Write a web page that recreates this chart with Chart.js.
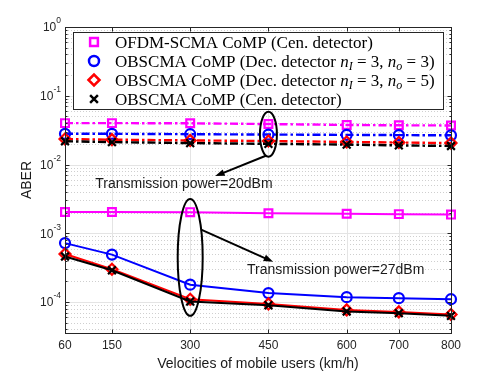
<!DOCTYPE html>
<html>
<head>
<meta charset="utf-8">
<script src="https://cdn.jsdelivr.net/npm/chart.js@4.4.0/dist/chart.umd.min.js"></script>
<style>
  html, body { margin: 0; padding: 0; background: #fff; }
  #wrap { width: 498px; height: 374px; }
</style>
</head>
<body>
<div id="wrap"><canvas id="aberChart"></canvas></div>
<script>
const velocities = [60, 150, 300, 450, 600, 700, 800];

// Transmission power = 20 dBm (dash-dot curves)
const ofdmCen20 = [0.0400, 0.0400, 0.0398, 0.0388, 0.0376, 0.0372, 0.0370];
const obsDec33_20 = [0.0280, 0.0280, 0.0276, 0.0273, 0.0270, 0.0268, 0.0266];
const obsDec35_20 = [0.0235, 0.0230, 0.0224, 0.0220, 0.0213, 0.0209, 0.0205];
const obsCen20 = [0.0218, 0.0212, 0.0205, 0.0200, 0.0195, 0.0190, 0.0186];

// Transmission power = 27 dBm (solid curves)
const ofdmCen27 = [0.00204, 0.00204, 0.00203, 0.00196, 0.00193, 0.00190, 0.00187];
const obsDec33_27 = [7.2e-4, 4.9e-4, 1.79e-4, 1.35e-4, 1.18e-4, 1.14e-4, 1.10e-4];
const obsDec35_27 = [5.0e-4, 3.0e-4, 1.10e-4, 9.4e-5, 7.7e-5, 7.2e-5, 6.6e-5];
const obsCen27 = [4.6e-4, 2.9e-4, 1.02e-4, 9.0e-5, 7.3e-5, 6.9e-5, 6.3e-5];

const yDecades = [0, -1, -2, -3, -4];
const yMin = 3.55e-5, yMax = 1;

const MAGENTA = '#ff00ff', BLUE = '#0000ff', RED = '#ff0000', BLACK = '#000000';
const AXIS = '#262626';

// legend text, with italic / subscript parts for the math
const legendEntries = [
  { style: 'rect', color: MAGENTA, parts: [['OFDM-SCMA CoMP (Cen. detector)', 'n']] },
  { style: 'circle', color: BLUE, parts: [['OBSCMA CoMP (Dec. detector ', 'n'], ['n', 'i'], ['I', 's'], [' = 3, ', 'n'], ['n', 'i'], ['o', 's'], [' = 3)', 'n']] },
  { style: 'rectRot', color: RED, parts: [['OBSCMA CoMP (Dec. detector ', 'n'], ['n', 'i'], ['I', 's'], [' = 3, ', 'n'], ['n', 'i'], ['o', 's'], [' = 5)', 'n']] },
  { style: 'crossRot', color: BLACK, parts: [['OBSCMA CoMP (Cen. detector)', 'n']] }
];

function series(label, values, color, pointStyle, dashed, order) {
  return {
    label, order,
    data: velocities.map((v, i) => ({ x: v, y: values[i] })),
    borderColor: color,
    backgroundColor: color,
    borderWidth: dashed ? 2.4 : 2,
    borderDash: dashed ? [8, 3, 2.5, 3] : [],
    pointStyle,
    pointRadius: pointStyle === 'circle' ? 5 : 5.5,
    pointBorderColor: color,
    pointBackgroundColor: 'rgba(0,0,0,0)',
    pointBorderWidth: 2.2,
    fill: false,
    tension: 0,
    clip: false
  };
}

function drawMarker(ctx, style, x, y, r, color) {
  ctx.save();
  ctx.strokeStyle = color;
  ctx.lineWidth = 2.5;
  ctx.beginPath();
  if (style === 'rect') {
    const s = r * Math.SQRT1_2;
    ctx.rect(x - s, y - s, 2 * s, 2 * s);
  } else if (style === 'circle') {
    ctx.arc(x, y, r, 0, Math.PI * 2);
  } else if (style === 'rectRot') {
    ctx.moveTo(x - r, y); ctx.lineTo(x, y - r); ctx.lineTo(x + r, y); ctx.lineTo(x, y + r); ctx.closePath();
  } else {
    const s = r * Math.SQRT1_2;
    ctx.moveTo(x - s, y - s); ctx.lineTo(x + s, y + s);
    ctx.moveTo(x + s, y - s); ctx.lineTo(x - s, y + s);
  }
  ctx.stroke();
  ctx.restore();
}

function hline(ctx, x1, x2, y) { ctx.beginPath(); ctx.moveTo(x1, y); ctx.lineTo(x2, y); ctx.stroke(); }
function vline(ctx, x, y1, y2) { ctx.beginPath(); ctx.moveTo(x, y1); ctx.lineTo(x, y2); ctx.stroke(); }

const figurePlugin = {
  id: 'figurePlugin',
  beforeDraw(chart) {
    const ctx = chart.ctx;
    ctx.save();
    ctx.fillStyle = '#fff';
    ctx.fillRect(0, 0, chart.width, chart.height);
    ctx.restore();
  },
  beforeDatasetsDraw(chart) {
    const { ctx, chartArea: a, scales: { x, y } } = chart;
    ctx.save();
    ctx.beginPath();
    ctx.rect(a.left, a.top, a.right - a.left, a.bottom - a.top);
    ctx.clip();
    ctx.lineWidth = 1;
    // minor log grid, dotted
    ctx.strokeStyle = '#cfcfcf';
    ctx.setLineDash([1, 2]);
    for (let e = -5; e < 0; e++) {
      for (let k = 2; k <= 9; k++) {
        const py = Math.round(y.getPixelForValue(k * Math.pow(10, e))) + 0.5;
        if (py > a.top && py < a.bottom) hline(ctx, a.left, a.right, py);
      }
    }
    ctx.setLineDash([]);
    ctx.strokeStyle = '#e4e4e4';
    velocities.forEach(v => vline(ctx, Math.round(x.getPixelForValue(v)) + 0.5, a.top, a.bottom));
    yDecades.forEach(e => hline(ctx, a.left, a.right, Math.round(y.getPixelForValue(Math.pow(10, e))) + 0.5));
    ctx.restore();
  },
  afterDatasetsDraw(chart) {
    const { ctx, chartArea: a, scales: { x, y } } = chart;
    ctx.save();

    // box with inward ticks on all sides
    ctx.strokeStyle = AXIS;
    ctx.lineWidth = 1;
    const L = Math.round(a.left) + 0.5, R = Math.round(a.right) + 0.5;
    const T = Math.round(a.top) + 0.5, B = Math.round(a.bottom) + 0.5;
    ctx.strokeRect(L, T, R - L, B - T);
    velocities.forEach(v => {
      const px = Math.round(x.getPixelForValue(v)) + 0.5;
      vline(ctx, px, B, B - 4);
      vline(ctx, px, T, T + 4);
    });
    for (let e = -5; e <= 0; e++) {
      for (let k = 1; k <= 9; k++) {
        const val = k * Math.pow(10, e);
        if (val < yMin || val > yMax) continue;
        const py = Math.round(y.getPixelForValue(val)) + 0.5;
        const len = k === 1 ? 4 : 2;
        hline(ctx, L, L + len, py);
        hline(ctx, R, R - len, py);
      }
    }

    // tick labels
    ctx.fillStyle = AXIS;
    ctx.font = '12px "Liberation Sans", Arial, sans-serif';
    ctx.textAlign = 'center';
    ctx.textBaseline = 'middle';
    velocities.forEach(v => ctx.fillText(String(v), x.getPixelForValue(v), a.bottom + 13));
    yDecades.forEach(e => {
      const py = y.getPixelForValue(Math.pow(10, e));
      const expTxt = e === 0 ? '0' : '-' + Math.abs(e);
      ctx.font = '8.5px "Liberation Sans", Arial, sans-serif';
      const ew = ctx.measureText(expTxt).width;
      const right = a.left - 4;
      ctx.textAlign = 'left';
      ctx.fillText(expTxt, right - ew, py - 6);
      ctx.font = '12px "Liberation Sans", Arial, sans-serif';
      ctx.textAlign = 'right';
      ctx.fillText('10', right - ew, py + 1);
    });

    // axis titles
    ctx.fillStyle = '#1a1a1a';
    ctx.font = '14px "Liberation Sans", Arial, sans-serif';
    ctx.textAlign = 'center';
    ctx.fillText('Velocities of mobile users (km/h)', (a.left + a.right) / 2, 364);
    ctx.save();
    ctx.translate(27, (a.top + a.bottom) / 2);
    ctx.rotate(-Math.PI / 2);
    ctx.fillText('ABER', 0, 0);
    ctx.restore();

    // annotations: ellipses, arrows, captions
    ctx.strokeStyle = '#000';
    ctx.fillStyle = '#000';
    ctx.lineWidth = 2;
    const ell = (vx, yTop, yBot, hw) => {
      const cx = x.getPixelForValue(vx);
      const t = y.getPixelForValue(yTop), b = y.getPixelForValue(yBot);
      ctx.beginPath();
      ctx.ellipse(cx, (t + b) / 2, hw, (b - t) / 2, 0, 0, Math.PI * 2);
      ctx.stroke();
    };
    const arrow = (x1, y1, x2, y2) => {
      const px1 = x.getPixelForValue(x1), py1 = y.getPixelForValue(y1);
      const px2 = x.getPixelForValue(x2), py2 = y.getPixelForValue(y2);
      const ang = Math.atan2(py2 - py1, px2 - px1);
      ctx.beginPath();
      ctx.moveTo(px1, py1);
      ctx.lineTo(px2 - Math.cos(ang) * 6, py2 - Math.sin(ang) * 6);
      ctx.stroke();
      ctx.beginPath();
      ctx.moveTo(px2, py2);
      ctx.lineTo(px2 - Math.cos(ang - 0.35) * 10, py2 - Math.sin(ang - 0.35) * 10);
      ctx.lineTo(px2 - Math.cos(ang + 0.35) * 10, py2 - Math.sin(ang + 0.35) * 10);
      ctx.closePath();
      ctx.fill();
    };
    ell(450, 0.0586, 0.0130, 8.5);
    arrow(445, 0.0134, 348, 0.0068);
    ell(300, 0.00316, 6.3e-5, 12.5);
    arrow(321, 0.00113, 459, 3.86e-4);
    ctx.font = '14px "Liberation Sans", Arial, sans-serif';
    ctx.textAlign = 'center';
    ctx.textBaseline = 'middle';
    ctx.fillStyle = '#1a1a1a';
    ctx.fillText('Transmission power=20dBm', x.getPixelForValue(288), y.getPixelForValue(0.0052));
    ctx.fillText('Transmission power=27dBm', x.getPixelForValue(579), y.getPixelForValue(2.95e-4));

    // legend
    const lx = 73.5, ly = 32.5, lw = 370, lh = 77;
    ctx.fillStyle = '#fff';
    ctx.fillRect(lx, ly, lw, lh);
    ctx.strokeStyle = AXIS;
    ctx.lineWidth = 1;
    ctx.strokeRect(lx, ly, lw, lh);
    const fonts = {
      n: '17px "Liberation Serif", "Times New Roman", serif',
      i: 'italic 17px "Liberation Serif", "Times New Roman", serif',
      s: 'italic 12px "Liberation Serif", "Times New Roman", serif'
    };
    ctx.textAlign = 'left';
    ctx.textBaseline = 'alphabetic';
    legendEntries.forEach((entry, i) => {
      const rowY = 42 + i * 19;
      drawMarker(ctx, entry.style, 94, rowY, entry.style === 'circle' ? 5 : 5.5, entry.color);
      let tx = 115;
      ctx.fillStyle = '#000';
      entry.parts.forEach(([txt, kind]) => {
        ctx.font = fonts[kind];
        ctx.fillText(txt, tx, rowY + 5.5 + (kind === 's' ? 3 : 0));
        tx += ctx.measureText(txt).width;
      });
    });

    ctx.restore();
  }
};

new Chart(document.getElementById('aberChart'), {
  type: 'line',
  data: {
    datasets: [
      series('OFDM-SCMA CoMP (Cen. detector), 20 dBm', ofdmCen20, MAGENTA, 'rect', true, 4),
      series('OBSCMA CoMP (Dec. detector nI=3, no=3), 20 dBm', obsDec33_20, BLUE, 'circle', true, 3),
      series('OBSCMA CoMP (Dec. detector nI=3, no=5), 20 dBm', obsDec35_20, RED, 'rectRot', true, 2),
      series('OBSCMA CoMP (Cen. detector), 20 dBm', obsCen20, BLACK, 'crossRot', true, 1),
      series('OFDM-SCMA CoMP (Cen. detector), 27 dBm', ofdmCen27, MAGENTA, 'rect', false, 4),
      series('OBSCMA CoMP (Dec. detector nI=3, no=3), 27 dBm', obsDec33_27, BLUE, 'circle', false, 3),
      series('OBSCMA CoMP (Dec. detector nI=3, no=5), 27 dBm', obsDec35_27, RED, 'rectRot', false, 2),
      series('OBSCMA CoMP (Cen. detector), 27 dBm', obsCen27, BLACK, 'crossRot', false, 1)
    ]
  },
  options: {
    responsive: true,
    maintainAspectRatio: false,
    animation: false,
    layout: { padding: { top: 27, right: 47, left: 0, bottom: 0 } },
    plugins: { legend: { display: false }, tooltip: { enabled: false } },
    scales: {
      x: {
        type: 'linear', min: 60, max: 800,
        ticks: { display: false }, grid: { display: false }, border: { display: false },
        afterFit(s) { s.height = 41; }
      },
      y: {
        type: 'logarithmic', min: yMin, max: yMax,
        ticks: { display: false }, grid: { display: false }, border: { display: false },
        afterFit(s) { s.width = 65; }
      }
    }
  },
  plugins: [figurePlugin]
});
</script>
</body>
</html>
